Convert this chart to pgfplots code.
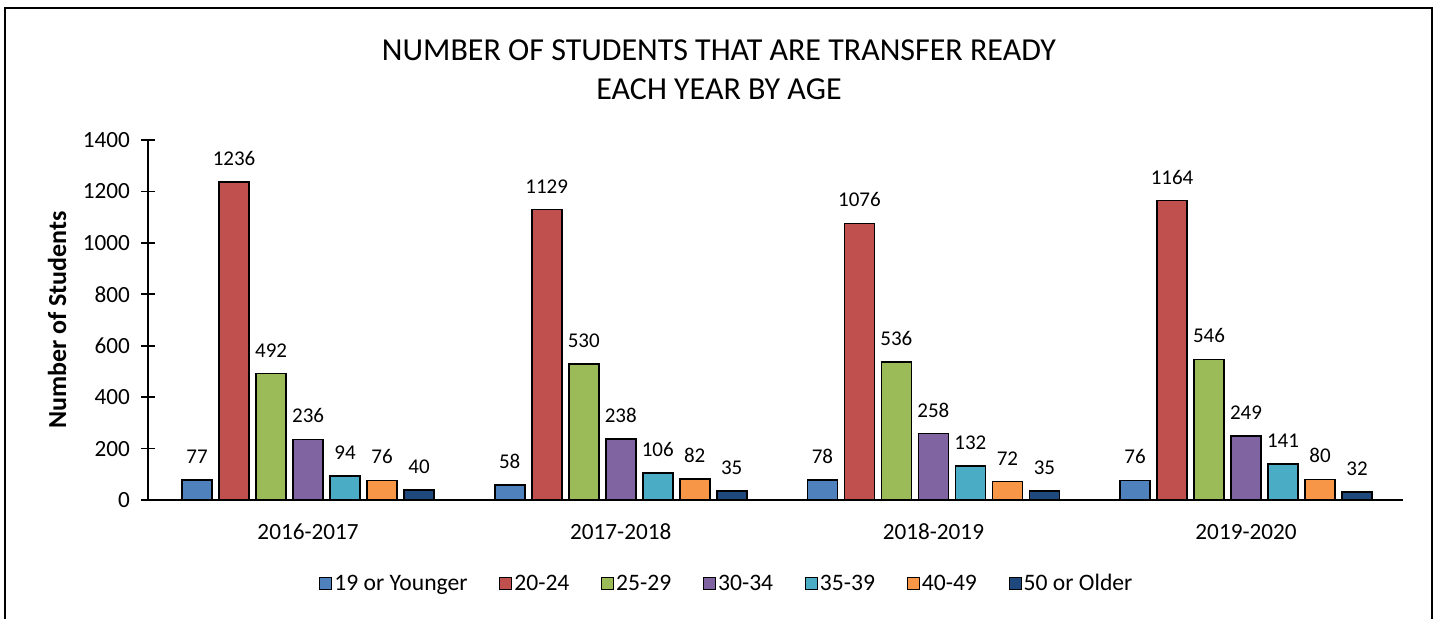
\documentclass[border=0pt]{standalone}
\usepackage{pgfplots}
\pgfplotsset{compat=1.18}
\usepackage{fontspec}
\setmainfont{Carlito}
\definecolor{c1}{HTML}{4F81BD}
\definecolor{c2}{HTML}{C0504D}
\definecolor{c3}{HTML}{9BBB59}
\definecolor{c4}{HTML}{8064A2}
\definecolor{c5}{HTML}{4BACC6}
\definecolor{c6}{HTML}{F79646}
\definecolor{c7}{HTML}{1F497D}
\begin{document}
\begin{tikzpicture}
\useasboundingbox (0,0) rectangle (719.5pt,309pt);
\draw[line width=1pt] (2.5pt,-5pt) -- (2.5pt,305pt) -- (716pt,305pt) -- (716pt,-5pt);
\node[align=center, font=\fontsize{16}{19.5}\selectfont] at (359.5pt,274pt) {NUMBER OF STUDENTS THAT ARE TRANSFER READY\\EACH YEAR BY AGE};
\begin{axis}[
  at={(74pt,59pt)}, anchor=south west,
  scale only axis, width=627.5pt, height=180pt,
  ybar=3.5pt, bar width=15pt,
  xmin=-0.512, xmax=3.502, ymin=0, ymax=1400,
  ytick={0,200,...,1400},
  xtick={0,1,2,3},
  xticklabels={2016-2017,2017-2018,2018-2019,2019-2020},
  axis x line*=bottom, axis y line*=left,
  axis line style={-, line width=0.8pt},
  tick align=center, major tick length=7pt,
  ytick style={line width=0.8pt, black},
  xtick style={draw=none},
  /pgf/number format/assume math mode=true,
  /pgf/number format/1000 sep={},
  ticklabel style={font=\fontsize{11.6}{13}\selectfont},
  xticklabel style={yshift=-5pt},
  yticklabel style={xshift=-2pt},
  ylabel={\textbf{Number of Students}},
  ylabel style={at={(axis description cs:-0.0725,0.5)}, anchor=center, font=\fontsize{13}{15}\selectfont},
  nodes near coords,
  nodes near coords style={font=\fontsize{10.5}{12}\selectfont, yshift=4.5pt, /pgf/number format/assume math mode=true},
  every axis plot/.append style={draw=black, line width=0.8pt},
  legend columns=7,
  legend style={at={(axis description cs:0.462,-0.233)}, anchor=center, draw=none, font=\fontsize{11.8}{13}\selectfont,
    /tikz/every even column/.append style={column sep=13.8pt},
    /tikz/every odd column/.append style={column sep=-1pt}},
  legend image code/.code={\draw[#1, draw=black, line width=0.6pt] (0pt,-3pt) rectangle (6pt,3pt);},
  clip=false,
]
\addplot[fill=c1] coordinates {(0,77) (1,58) (2,78) (3,76)};
\addplot[fill=c2] coordinates {(0,1236) (1,1129) (2,1076) (3,1164)};
\addplot[fill=c3] coordinates {(0,492) (1,530) (2,536) (3,546)};
\addplot[fill=c4] coordinates {(0,236) (1,238) (2,258) (3,249)};
\addplot[fill=c5] coordinates {(0,94) (1,106) (2,132) (3,141)};
\addplot[fill=c6] coordinates {(0,76) (1,82) (2,72) (3,80)};
\addplot[fill=c7] coordinates {(0,40) (1,35) (2,35) (3,32)};
\legend{19 or Younger,20-24,25-29,30-34,35-39,40-49,50 or Older}
\end{axis}
\end{tikzpicture}
\end{document}
